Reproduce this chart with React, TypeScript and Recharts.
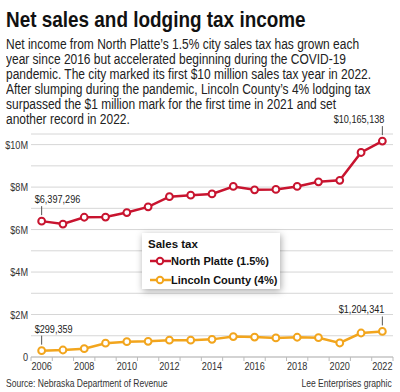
import { LineChart, Line, XAxis, YAxis, CartesianGrid, Legend, LabelList } from 'recharts';

const years = [2006, 2007, 2008, 2009, 2010, 2011, 2012, 2013, 2014, 2015, 2016, 2017, 2018, 2019, 2020, 2021, 2022];
const northPlatte = [6397296, 6260000, 6580000, 6590000, 6800000, 7070000, 7550000, 7620000, 7680000, 8030000, 7870000, 7890000, 8030000, 8250000, 8320000, 9630000, 10165138];
const lincolnCounty = [299359, 330000, 390000, 650000, 720000, 740000, 790000, 790000, 830000, 960000, 940000, 900000, 930000, 910000, 660000, 1130000, 1204341];
const yTicks = [0, 1e6, 2e6, 3e6, 4e6, 5e6, 6e6, 7e6, 8e6, 9e6, 10e6];
const xTicks = years.flatMap((y) => [y - 0.5, y]).concat(years[years.length - 1] + 0.5);
const seriesOrder = ['North Platte (1.5%)', 'Lincoln County (4%)'];

const bodyLines = [
  'Net income from North Platte\u2019s 1.5% city sales tax has grown each',
  'year since 2016 but accelerated beginning during the COVID-19',
  'pandemic. The city marked its first $10 million sales tax year in 2022.',
  'After slumping during the pandemic, Lincoln County\u2019s 4% lodging tax',
  'surpassed the $1 million mark for the first time in 2021 and set',
  'another record in 2022.',
];

const data = years.map((year, i) => ({ year, np: northPlatte[i], lc: lincolnCounty[i] }));

const RED = '#c8142f';
const ORANGE = '#f2a51d';
const FONT = '"Liberation Sans", Arial, sans-serif';
const SQUEEZE = 0.83;

// svg text squeezed horizontally to mimic the narrow newspaper face
const NarrowText = ({ x, y, anchor, size, children, fill = '#333' }: any) => (
  <text
    transform={`translate(${x},${y}) scale(${SQUEEZE},1)`}
    textAnchor={anchor}
    fill={fill}
    fontSize={size}
    fontFamily={FONT}
  >
    {children}
  </text>
);

const XTick = (props: any) => {
  const { x, y, payload } = props;
  const v = payload.value;
  if (!Number.isInteger(v)) {
    return <line x1={x} x2={x} y1={y} y2={y + 4} stroke="#bbb" />;
  }
  if (v % 2 !== 0) return <g />;
  return (
    <NarrowText x={x} y={y + 12.5} anchor="middle" size={11}>
      {v}
    </NarrowText>
  );
};

const YTick = (props: any) => {
  const { x, y, payload } = props;
  const v = payload.value;
  if (v % 2e6 !== 0) return <g />;
  return (
    <NarrowText x={x} y={y + 4} anchor="end" size={11}>
      {v === 0 ? '0' : `$${v / 1e6}M`}
    </NarrowText>
  );
};

const endLabel = (props: any) => {
  const { index, value } = props;
  const x = props.x ?? props.viewBox?.x;
  const y = props.y ?? props.viewBox?.y;
  const last = data.length - 1;
  if (index !== 0 && index !== last) return null;
  const first = index === 0;
  return (
    <g>
      <line x1={x} x2={x} y1={y - 6} y2={y - 15} stroke="#555" strokeWidth={1} />
      <NarrowText x={first ? x - 7 : x + 2} y={y - 18} anchor={first ? 'start' : 'end'} size={11} fill="#222">
        {'$' + Number(value).toLocaleString('en-US')}
      </NarrowText>
    </g>
  );
};

const LegendBox = (props: any) => {
  const items = [...(props.payload || [])].sort(
    (a: any, b: any) => seriesOrder.indexOf(a.value) - seriesOrder.indexOf(b.value)
  );
  return (
    <div
      style={{
        width: 138,
        height: 56,
        background: '#fff',
        boxShadow: '1px 2px 7px rgba(0,0,0,0.35)',
        fontFamily: FONT,
        fontWeight: 700,
        color: '#111',
        position: 'relative',
      }}
    >
      <div style={{ position: 'absolute', left: 6, top: 4, fontSize: 11.5, lineHeight: '14px' }}>Sales tax</div>
      {items.map((it: any, i: number) => (
        <div
          key={it.value}
          style={{ position: 'absolute', left: 8, top: 21 + i * 18.5, height: 14, display: 'flex', alignItems: 'center', fontSize: 11 }}
        >
          <svg width={21} height={10}>
            <line x1={0} x2={21} y1={5} y2={5} stroke={it.color} strokeWidth={2.5} />
            <circle cx={10} cy={5} r={3.2} fill="#fff" stroke={it.color} strokeWidth={2} />
          </svg>
          <span>{it.value}</span>
        </div>
      ))}
    </div>
  );
};

export default function App() {
  return (
    <div style={{ position: 'absolute', left: 0, top: 0, width: 400, height: 392, background: '#fff', overflow: 'hidden' }}>
      <div
        style={{
          position: 'absolute',
          left: 6,
          top: 10,
          fontFamily: FONT,
          fontWeight: 700,
          fontSize: 21.5,
          lineHeight: '21.5px',
          color: '#111',
          whiteSpace: 'nowrap',
          transform: 'scaleX(0.88)',
          transformOrigin: '0 0',
        }}
      >
        Net sales and lodging tax income
      </div>
      <div
        style={{
          position: 'absolute',
          left: 6,
          top: 37,
          fontFamily: FONT,
          fontSize: 14,
          lineHeight: '15.1px',
          color: '#222',
          whiteSpace: 'nowrap',
          transform: 'scaleX(0.855)',
          transformOrigin: '0 0',
        }}
      >
        {bodyLines.map((l) => (
          <div key={l}>{l}</div>
        ))}
      </div>
      <div style={{ position: 'absolute', left: 0, top: 0 }}>
        <LineChart width={400} height={392} data={data} margin={{ top: 134, right: 7, bottom: 15, left: 1 }}>
          <CartesianGrid vertical={false} stroke="#d6d6d6" />
          <XAxis
            dataKey="year"
            type="number"
            domain={[2005.5, 2022.5]}
            ticks={xTicks}
            interval={0}
            allowDecimals
            height={20}
            tickSize={0}
            tickMargin={0}
            tickLine={false}
            axisLine={{ stroke: '#bbb' }}
            tick={<XTick />}
          />
          <YAxis
            width={30}
            domain={[0, 10.5e6]}
            ticks={yTicks}
            interval={0}
            axisLine={false}
            tickLine={false}
            tickSize={0}
            tickMargin={3}
            tick={<YTick />}
          />
          <Legend
            layout="horizontal"
            verticalAlign="middle"
            align="center"
            content={<LegendBox />}
            wrapperStyle={{ position: 'absolute', left: 142, top: 233, width: 138, height: 56 }}
          />
          <Line
            name="North Platte (1.5%)"
            dataKey="np"
            stroke={RED}
            strokeWidth={2.5}
            dot={{ r: 3.4, fill: '#fff', stroke: RED, strokeWidth: 2 }}
            isAnimationActive={false}
          >
            <LabelList dataKey="np" content={endLabel} />
          </Line>
          <Line
            name="Lincoln County (4%)"
            dataKey="lc"
            stroke={ORANGE}
            strokeWidth={2.5}
            dot={{ r: 3.4, fill: '#fff', stroke: ORANGE, strokeWidth: 2 }}
            isAnimationActive={false}
          >
            <LabelList dataKey="lc" content={endLabel} />
          </Line>
        </LineChart>
      </div>
      <div
        style={{
          position: 'absolute',
          left: 6,
          top: 378,
          fontFamily: FONT,
          fontSize: 10.3,
          lineHeight: '12px',
          color: '#333',
          whiteSpace: 'nowrap',
          transform: 'scaleX(0.83)',
          transformOrigin: '0 0',
        }}
      >
        Source: Nebraska Department of Revenue
      </div>
      <div
        style={{
          position: 'absolute',
          right: 8,
          top: 378,
          fontFamily: FONT,
          fontSize: 10.3,
          lineHeight: '12px',
          color: '#333',
          whiteSpace: 'nowrap',
          transform: 'scaleX(0.83)',
          transformOrigin: '100% 0',
        }}
      >
        Lee Enterprises graphic
      </div>
    </div>
  );
}
